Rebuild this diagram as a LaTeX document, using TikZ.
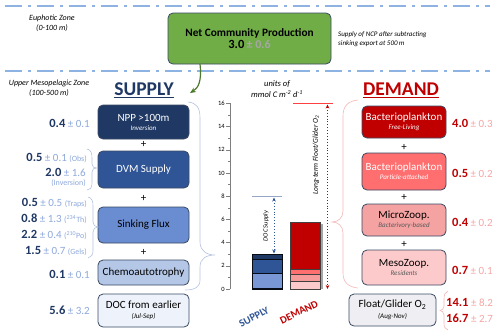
\documentclass[tikz,border=0pt]{standalone}
\usepackage{fontspec}
\setmainfont{Carlito}
\usetikzlibrary{arrows.meta}
\definecolor{zoneline}{HTML}{8DB3E2}
\definecolor{bord}{HTML}{3B4A64}
\definecolor{ncpgreen}{HTML}{70AD47}
\definecolor{arrgreen}{HTML}{4E7A2E}
\definecolor{navy}{HTML}{1F3864}
\definecolor{dvmblue}{HTML}{2F5597}
\definecolor{sinkblue}{HTML}{6A8CD0}
\definecolor{chemoblue}{HTML}{B4C7E7}
\definecolor{docblue}{HTML}{EEF3FB}
\definecolor{pmblue}{HTML}{8EA9DB}
\definecolor{valnavy}{HTML}{203864}
\definecolor{bracebl}{HTML}{B4C3DE}
\definecolor{dred}{HTML}{C00000}
\definecolor{redA}{HTML}{FF6F6F}
\definecolor{redB}{HTML}{F4A2A2}
\definecolor{redC}{HTML}{FCCACA}
\definecolor{floatgrey}{HTML}{EFEEF2}
\definecolor{pmpink}{HTML}{F4A6A6}
\definecolor{bracepk}{HTML}{F4B8B8}
\definecolor{ncpgrey}{HTML}{A6A6A6}
\definecolor{axgrey}{HTML}{7F7F7F}
\begin{document}
\begin{tikzpicture}[x=1pt,y=-1pt,
  zoneln/.style={draw=zoneline,line width=1.8pt,dash pattern=on 17pt off 6pt on 3pt off 6pt},
  zonetxt/.style={font=\fontsize{8}{9.5}\selectfont\itshape,align=center,inner sep=0},
  box/.style={draw=bord,line width=0.8pt,rounded corners=5pt,align=center,inner sep=1pt},
  sbox/.style={box,minimum width=91pt},
  dbox/.style={box,minimum width=84pt},
  plus/.style={font=\fontsize{11}{11}\selectfont,inner sep=0},
  sval/.style={anchor=east,inner sep=0,font=\fontsize{11}{13}\selectfont},
  dval/.style={anchor=west,inner sep=0,font=\fontsize{11}{13}\selectfont},
  sbrace/.style={draw=bracebl,line width=0.6pt},
  dbrace/.style={draw=bracepk,line width=0.6pt},
  tick/.style={draw=axgrey,line width=0.6pt},
  ticklab/.style={font=\fontsize{6.5}{7}\selectfont,inner sep=1pt,anchor=east}
]
\useasboundingbox (0,0) rectangle (500,335);
\fill[white] (0,0) rectangle (500,335);
\newcommand\mainA[1]{{\fontsize{11}{12}\selectfont #1}}
\newcommand\subA[1]{{\fontsize{7}{8}\selectfont\itshape #1}}
\newcommand\sv[2]{{\fontsize{12.5}{13}\selectfont\bfseries\color{valnavy}#1} {\color{pmblue}#2}}
\newcommand\dv[2]{{\fontsize{12.5}{13}\selectfont\bfseries\color{dred}#1} {\color{pmpink}#2}}

% zone lines
\draw[zoneln] (5,6) -- (490,6);
\draw[zoneln] (5,71) -- (490,71);
\node[zonetxt] (euph) at (52,23.5) {Euphotic Zone\\(0-100 m)};
\node[zonetxt] (meso) at (49,88.5) {Upper Mesopelagic Zone\\(100-500 m)};

% NCP
\node[box,fill=ncpgreen,minimum width=163pt,minimum height=51pt] (ncp) at (249.5,38.5)
  {{\fontsize{11.3}{15}\selectfont\bfseries Net Community Production}\\
   {\fontsize{12.5}{14}\selectfont\bfseries 3.0} {\fontsize{12}{14}\selectfont\color{ncpgrey}\bfseries ± 0.6}};
\node[anchor=west,align=left,inner sep=0,font=\fontsize{7}{9}\selectfont\itshape] (note) at (338,39.5)
  {Supply of NCP after subtracting\\sinking export at 500\,m};

% headers
\node[inner sep=0,anchor=base,font=\fontsize{19.5}{20}\selectfont\bfseries,text=navy] (suphead) at (144,95.5) {SUPPLY};
\draw[navy,line width=1.3pt] ([yshift=-2.2pt]suphead.base west) -- ([yshift=-2.2pt]suphead.base east);
\node[inner sep=0,anchor=base,font=\fontsize{19.5}{20}\selectfont\bfseries,text=dred] (demhead) at (401,95.5) {DEMAND};
\draw[dred,line width=1.3pt] ([yshift=-2.2pt]demhead.base west) -- ([yshift=-2.2pt]demhead.base east);

% green arrow
\coordinate (garr) at (190,93);
\draw[arrgreen,line width=1.2pt,-{Stealth[length=6pt,width=5pt]}] (200,64) .. controls (202,82) and (198,88) .. (garr);

% supply boxes
\node[sbox,fill=navy,text=white,minimum height=34pt] (npp) at (143.5,122) {\mainA{NPP >100m}\\[-3pt]\subA{Inversion}};
\node[plus] (p1) at (143.5,144.5) {+};
\node[sbox,fill=dvmblue,text=white,minimum height=37pt] (dvm) at (143.5,169.5) {\mainA{DVM Supply}};
\node[plus] (p2) at (143.5,198) {+};
\node[sbox,fill=sinkblue,minimum height=36pt] (sink) at (143.5,225) {\mainA{Sinking Flux}};
\node[plus] (p3) at (143.5,252.5) {+};
\node[sbox,fill=chemoblue,minimum height=25pt] (chemo) at (143.5,272.5) {\mainA{Chemoautotrophy}};
\node[sbox,fill=docblue,minimum height=33pt] (doc) at (143.5,310.5) {\mainA{DOC from earlier}\\[-2pt]\subA{(Jul-Sep)}};

% supply values
\node[sval] (v1) at (90,123) {\sv{0.4}{± 0.1}};
\node[sval] (v2) at (87,158) {\sv{0.5}{± 0.1 {\fontsize{8}{9}\selectfont(Obs)}}};
\node[sval] (v3) at (86,172.5) {\sv{2.0}{± 1.6}};
\node[sval] (v3b) at (86,183.5) {\color{pmblue}\fontsize{8}{9}\selectfont(Inversion)};
\node[sval] (v4) at (87,203) {\sv{0.5}{± 0.5 {\fontsize{8}{9}\selectfont(Traps)}}};
\node[sval] (v5) at (87,218.5) {\sv{0.8}{± 1.3 {\fontsize{8}{9}\selectfont(\textsuperscript{234}Th)}}};
\node[sval] (v6) at (87,234.5) {\sv{2.2}{± 0.4 {\fontsize{8}{9}\selectfont(\textsuperscript{210}Po)}}};
\node[sval] (v7) at (87,251) {\sv{1.5}{± 0.7 {\fontsize{8}{9}\selectfont(Gels)}}};
\node[sval] (v8) at (90,274) {\sv{0.1}{± 0.1}};
\node[sval] (v9) at (90,310.5) {\sv{5.6}{± 3.2}};

% supply small braces
\draw[sbrace] (87,149) .. controls (91,150) and (92,153) .. (92,158) -- (92,164) .. controls (92,167) and (94,168) .. (97,168)
  .. controls (94,168) and (92,169) .. (92,172) -- (92,183) .. controls (92,188) and (90,190) .. (87,190);
\draw[sbrace] (88,197) .. controls (92,198) and (93,201) .. (93,206) -- (93,222) .. controls (93,225) and (95,227) .. (98,227)
  .. controls (95,227) and (93,229) .. (93,232) -- (93,251) .. controls (93,255) and (91,257) .. (88,258);
% supply big brace
\draw[sbrace] (188,102) .. controls (197,103) and (200,108) .. (200,118) -- (200,242)
  .. controls (200,251) and (207,255) .. (215,255) .. controls (207,255) and (200,258) .. (200,267)
  -- (200,280) .. controls (200,287) and (195,290) .. (185,290);

% demand boxes
\node[dbox,fill=dred,text=white,minimum height=32pt] (bfl) at (404,122) {\mainA{Bacterioplankton}\\[-3pt]\subA{Free-Living}};
\node[plus] (q1) at (404,147.5) {+};
\node[dbox,fill=redA,text=white,minimum height=37pt] (bpa) at (404,171.5) {\mainA{Bacterioplankton}\\[-3pt]\subA{Particle-attached}};
\node[plus] (q2) at (404,197.5) {+};
\node[dbox,fill=redB,minimum height=32pt] (micro) at (404,220) {\mainA{MicroZoop.}\\[-3pt]{\color{black!65}\subA{Bacterivory-based}}};
\node[plus] (q3) at (404,244.5) {+};
\node[dbox,fill=redC,minimum height=35pt] (mesoz) at (404,267.5) {\mainA{MesoZoop.}\\[-3pt]{\color{black!65}\subA{Residents}}};
\node[box,fill=floatgrey,minimum width=87pt,minimum height=32pt] (float) at (392.5,310) {\mainA{Float/Glider O\textsubscript{2}}\\[-1pt]\subA{(Aug-Nov)}};

% demand values
\node[dval] (w1) at (452,123) {\dv{4.0}{± 0.3}};
\node[dval] (w2) at (452,173) {\dv{0.5}{± 0.2}};
\node[dval] (w3) at (452,222) {\dv{0.4}{± 0.2}};
\node[dval] (w4) at (452,270) {\dv{0.7}{± 0.1}};
\node[dval] (w5) at (446,302) {\dv{14.1}{± 8.2}};
\node[dval] (w6) at (446,318) {\dv{16.7}{± 2.7}};
\draw[dbrace] (448,291) .. controls (445,292) and (444,295) .. (444,299) -- (444,306) .. controls (444,309) and (442,310) .. (440,310.5)
  .. controls (442,311) and (444,312) .. (444,315) -- (444,323) .. controls (444,327) and (445,329) .. (448,330);
% demand big brace
\draw[dbrace] (358,100) .. controls (348,101) and (343,106) .. (343,116) -- (343,211)
  .. controls (343,218) and (338,222) .. (332,222) .. controls (338,222) and (343,226) .. (343,233)
  -- (343,273) .. controls (343,282) and (348,287) .. (358,288);

% chart
\node[inner sep=0,align=center,font=\fontsize{8.5}{11.5}\selectfont\itshape] (units) at (277,89)
  {units of\\mmol C m\textsuperscript{-2} d\textsuperscript{-1}};
\draw[tick] (230,103.4) -- (230,289);
\foreach \v in {1,3,...,15} \draw[tick] (230,{289-11.6*\v}) -- ++(-2.5,0);
\foreach \v in {0,2,...,16} \draw[tick] (230,{289-11.6*\v}) -- ++(-4,0) node[ticklab] {\v};

% supply bar
\begin{scope}[draw=black!80!navy,line width=0.6pt]
\filldraw[fill=sinkblue!90!white] (252,287.8) rectangle (282,273.3);
\filldraw[fill=dvmblue] (252,273.3) rectangle (282,258.8);
\filldraw[fill=navy] (252,258.8) rectangle (282,254.2);
\filldraw[fill=navy!70!black] (252,289) rectangle (282,287.8);
\end{scope}
% demand bar
\fill[black!35] (320,223.5) rectangle (323,289);
\begin{scope}[draw=black!75,line width=0.6pt]
\filldraw[fill=redC] (290,289) rectangle (320,280.9);
\filldraw[fill=redB!85!redA] (290,280.9) rectangle (320,274.5);
\filldraw[fill=redA] (290,274.5) rectangle (320,269.3);
\filldraw[fill=dred] (290,269.3) rectangle (320,222.3);
\end{scope}

% DOC supply marker
\draw[bracebl!80!navy,line width=0.9pt] (252,196.2) -- (282,196.2);
\coordinate (dsT) at (274,197.5);
\coordinate (dsB) at (274,253.5);
\draw[dvmblue,line width=0.9pt,dotted,{Stealth[length=4pt,width=3.5pt]}-{Stealth[length=4pt,width=3.5pt]}] (dsT) -- (dsB);
\node[rotate=90,inner sep=0,font=\fontsize{6.5}{7}\selectfont\itshape] (docsup) at (266,226) {DOC Supply};

% float marker
\draw[red!75!white,line width=0.9pt] (293,103.4) -- (333,103.4);
\coordinate (flT) at (327.5,104.5);
\coordinate (flB) at (327.5,289);
\draw[dred,line width=0.9pt,dotted,{Stealth[length=4pt,width=3.5pt]}-{Stealth[length=4pt,width=3.5pt]}] (flT) -- (flB);
\node[rotate=90,inner sep=0,font=\fontsize{7.5}{8}\selectfont\itshape] (ltf) at (316,155) {Long-term Float/Glider O\textsubscript{2}};

% bar labels
\node[rotate=28,inner sep=0,font=\fontsize{10.5}{11}\selectfont\bfseries,text=dvmblue] (slab) at (254,317) {SUPPLY};
\node[rotate=26,inner sep=0,font=\fontsize{10.5}{11}\selectfont\bfseries,text=dred] (dlab) at (299,312) {DEMAND};
\end{tikzpicture}
\end{document}
